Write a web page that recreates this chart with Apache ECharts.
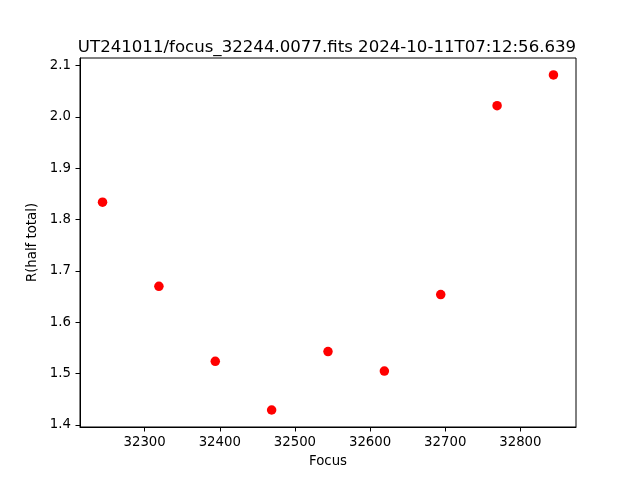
<!DOCTYPE html>
<html>
<head>
<meta charset="utf-8">
<script src="https://cdn.jsdelivr.net/npm/echarts@6/dist/echarts.min.js"></script>
<style>html,body{margin:0;padding:0;background:#fff;}#c{width:640px;height:480px;}</style>
</head>
<body>
<div id="c"></div>
<script>
var titleText = "UT241011/focus_32244.0077.fits 2024-10-11T07:12:56.639";
var focus = [32244, 32319, 32394, 32469, 32544, 32619, 32694, 32769, 32844];
var rHalf = [1.834, 1.670, 1.524, 1.429, 1.543, 1.505, 1.654, 2.022, 2.082];
var xTicks = [32300, 32400, 32500, 32600, 32700, 32800];
var yTicks = [1.4, 1.5, 1.6, 1.7, 1.8, 1.9, 2.0, 2.1];

var font = "DejaVu Sans";
var chart = echarts.init(document.getElementById('c'), null, {renderer: 'canvas'});
var pts = focus.map(function (f, i) { return [f, rHalf[i]]; });
chart.setOption({
  animation: false,
  backgroundColor: '#ffffff',
  title: {
    text: titleText,
    left: 322, top: 34, textAlign: 'center',
    textStyle: {fontFamily: font, fontSize: 16.6, fontWeight: 'normal', color: '#000'}
  },
  grid: {
    left: 80, right: 64, top: 58, bottom: 53,
    show: true, borderColor: '#000', borderWidth: 1, backgroundColor: 'transparent'
  },
  xAxis: {
    type: 'value', min: 32214, max: 32874,
    name: 'Focus', nameLocation: 'middle', nameGap: 28,
    nameTextStyle: {fontFamily: font, fontSize: 13.3, color: '#000'},
    splitLine: {show: false},
    axisLine: {show: true, lineStyle: {color: '#000', width: 1}},
    axisTick: {show: true, length: 4.5, lineStyle: {color: '#000', width: 1}, customValues: xTicks},
    axisLabel: {fontFamily: font, fontSize: 13.3, color: '#000', margin: 9, customValues: xTicks,
      formatter: function (v) { return String(v); }}
  },
  yAxis: {
    type: 'value', min: 1.3959, max: 2.115,
    name: 'R(half total)', nameLocation: 'middle', nameGap: 37,
    nameTextStyle: {fontFamily: font, fontSize: 13.3, color: '#000'},
    splitLine: {show: false},
    axisLine: {show: true, lineStyle: {color: '#000', width: 1}},
    axisTick: {show: true, length: 4.5, lineStyle: {color: '#000', width: 1}, customValues: yTicks},
    axisLabel: {fontFamily: font, fontSize: 13.3, color: '#000', margin: 9, customValues: yTicks,
      formatter: function (v) { return v.toFixed(1); }}
  },
  series: [{
    type: 'scatter',
    data: pts,
    symbol: 'circle',
    symbolSize: 9.5,
    itemStyle: {color: '#ff0000', opacity: 1},
    silent: true
  }]
});
</script>
</body>
</html>
